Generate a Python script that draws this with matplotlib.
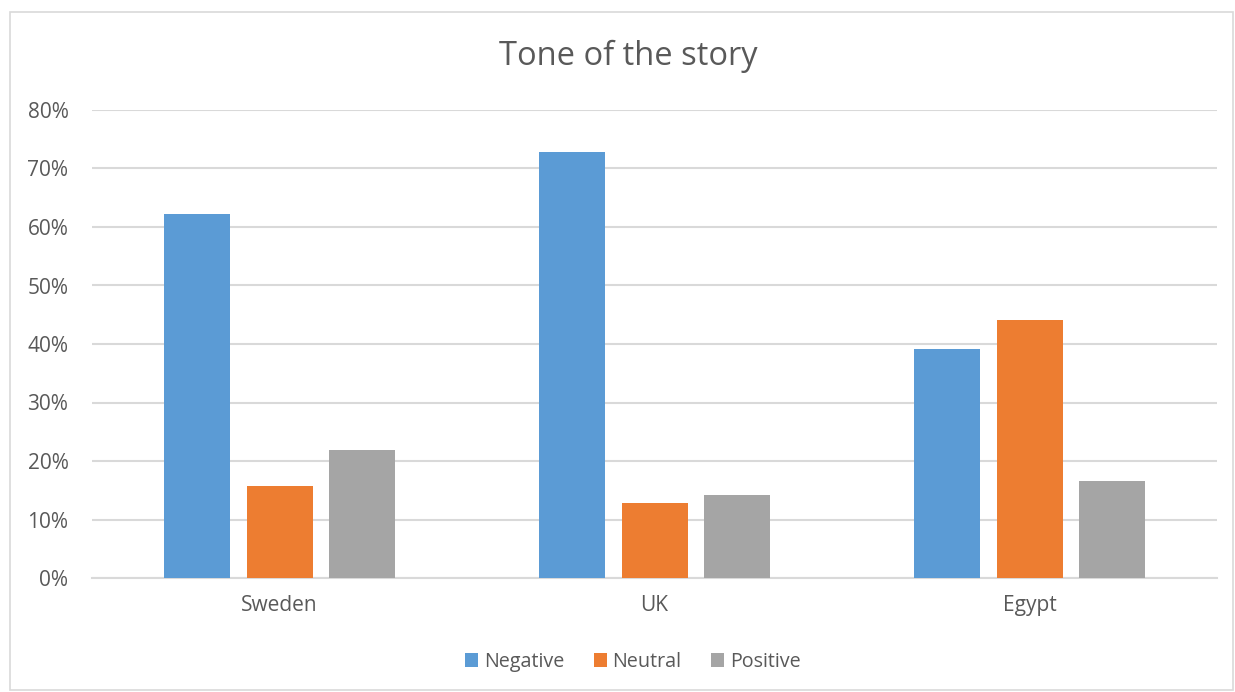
import matplotlib
matplotlib.use("Agg")
import matplotlib.pyplot as plt
import numpy as np
from matplotlib.patches import Rectangle

categories = ["Sweden", "UK", "Egypt"]
series_names = ["Negative", "Neutral", "Positive"]
negative = [0.622, 0.728, 0.391]
neutral = [0.157, 0.128, 0.441]
positive = [0.218, 0.142, 0.165]
colors = ["#5B9BD5", "#ED7D31", "#A5A5A5"]
yticks = [0, 0.1, 0.2, 0.3, 0.4, 0.5, 0.6, 0.7, 0.8]

plt.rcParams['font.family'] = ['Open Sans', 'DejaVu Sans']
text_color = "#595959"

fig = plt.figure(figsize=(12.35, 6.92), dpi=100)
fig.patches.append(Rectangle((10/1235, 1 - 690/692), 1223/1235, 678/692,
                             transform=fig.transFigure, fill=False,
                             edgecolor="#D9D9D9", linewidth=1.2))
ax = fig.add_axes([92/1235, 1 - 578/692, 1125/1235, 468/692])

x = np.arange(len(categories))
w = 0.176
off = 0.2213
for i, (vals, name) in enumerate(zip([negative, neutral, positive], series_names)):
    ax.bar(x + (i - 1) * off, vals, width=w, color=colors[i], label=name, zorder=3)

ax.set_xlim(-0.5, 2.5)
ax.set_ylim(0, 0.8)
ax.set_yticks(yticks)
ax.set_yticklabels([f"{int(round(t*100))}%" for t in yticks])
ax.set_xticks(x)
ax.set_xticklabels(categories)
ax.yaxis.grid(True, color="#D9D9D9", linewidth=1.5, zorder=0)
ax.set_axisbelow(True)
for s in ["top", "right", "left"]:
    ax.spines[s].set_visible(False)
ax.spines["bottom"].set_color("#D9D9D9")
ax.spines["bottom"].set_linewidth(1.5)
ax.tick_params(axis="both", length=0, labelsize=15, colors=text_color)
ax.tick_params(axis="x", pad=12)
ax.tick_params(axis="y", pad=17)

fig.text(628/1235, 1 - 56/692, "Tone of the story", ha="center", va="center",
         fontsize=23.5, color=text_color)

leg = fig.legend(loc="center", bbox_to_anchor=(633/1235, 1 - 662/692), ncol=3,
                 frameon=False, fontsize=14.2, handlelength=0.65, handleheight=0.65,
                 handletextpad=0.3, columnspacing=1.5)
for t in leg.get_texts():
    t.set_color(text_color)

fig.savefig("out.png", dpi=100)
